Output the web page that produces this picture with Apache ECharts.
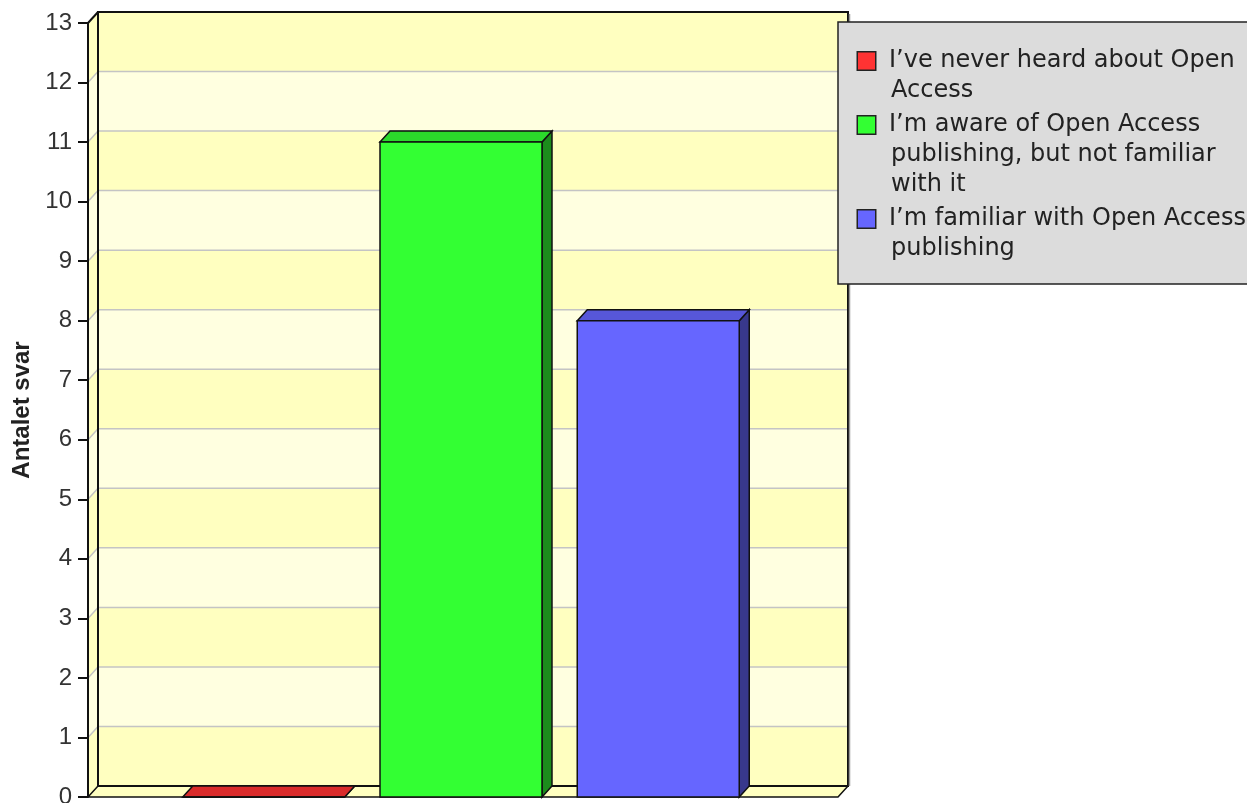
<!DOCTYPE html>
<html>
<head>
<meta charset="utf-8">
<script src="https://cdn.jsdelivr.net/npm/echarts@6/dist/echarts.min.js"></script>
<style>
  html, body { margin: 0; padding: 0; background: #fff; }
  #chart { width: 1247px; height: 803px; }
</style>
</head>
<body>
<div id="chart"></div>
<script>
// data
var categories = [''];
var seriesNames = [
  'I’ve never heard about Open Access',
  'I’m aware of Open Access publishing, but not familiar with it',
  'I’m familiar with Open Access publishing'
];
var seriesValues = [0, 11, 8];
var seriesColors = ['#ff3333', '#33ff33', '#6666ff'];
var yTicks = [0, 1, 2, 3, 4, 5, 6, 7, 8, 9, 10, 11, 12, 13];
var yAxisName = 'Antalet svar';

// 3d look
var DX = 10, DY = 11;
var BAND_A = '#ffffc0', BAND_B = '#ffffe0';
var BAR_W = 0.216, BAR_STEP = 0.263, BAR_SHIFT = -2;
var LEGEND_FONT = '"DejaVu Sans"';
var LEGEND_TEXT_W = 362;

function shade(hex, f) {
  var n = parseInt(hex.slice(1), 16);
  var r = Math.round(((n >> 16) & 255) * f);
  var g = Math.round(((n >> 8) & 255) * f);
  var b = Math.round((n & 255) * f);
  return 'rgb(' + r + ',' + g + ',' + b + ')';
}

var measureCtx = document.createElement('canvas').getContext('2d');
measureCtx.font = '24px ' + LEGEND_FONT;
function wrapText(text, maxW) {
  var words = text.split(' '), lines = [], cur = '';
  words.forEach(function (w) {
    var test = cur ? cur + ' ' + w : w;
    if (cur && measureCtx.measureText(test).width > maxW) {
      lines.push(cur);
      cur = w;
    } else {
      cur = test;
    }
  });
  if (cur) lines.push(cur);
  return lines;
}

function renderWalls(params, api) {
  var cs = params.coordSys;
  var x0 = cs.x, x1 = cs.x + cs.width;
  var yMin = yTicks[0], yMax = yTicks[yTicks.length - 1];
  var yBase = api.coord([0, yMin])[1], yTop = api.coord([0, yMax])[1];
  var kids = [];
  for (var k = yMin; k < yMax; k++) {
    var ya = api.coord([0, k])[1], yb = api.coord([0, k + 1])[1];
    var fill = (k - yMin) % 2 === 0 ? BAND_A : BAND_B;
    kids.push({ type: 'polygon', shape: { points: [[x0, ya], [x0 + DX, ya - DY], [x0 + DX, yb - DY], [x0, yb]] }, style: { fill: fill } });
    kids.push({ type: 'rect', shape: { x: x0 + DX, y: yb - DY, width: x1 - x0, height: ya - yb }, style: { fill: fill } });
  }
  for (var j = yMin + 1; j < yMax; j++) {
    var y = api.coord([0, j])[1];
    kids.push({ type: 'line', shape: { x1: x0 + DX, y1: y - DY, x2: x1 + DX, y2: y - DY }, style: { stroke: '#c4c4c4', lineWidth: 1.5 } });
    kids.push({ type: 'line', shape: { x1: x0, y1: y, x2: x0 + DX, y2: y - DY }, style: { stroke: '#c4c4c4', lineWidth: 1.5 } });
  }
  // floor
  kids.push({ type: 'polygon', shape: { points: [[x0, yBase], [x0 + DX, yBase - DY], [x1 + DX, yBase - DY], [x1, yBase]] }, style: { fill: BAND_A, stroke: '#111', lineWidth: 1.5 } });
  // back wall outline
  kids.push({ type: 'rect', shape: { x: x0 + DX, y: yTop - DY, width: x1 - x0, height: yBase - yTop }, style: { fill: 'none', stroke: '#111', lineWidth: 2 } });
  kids.push({ type: 'line', shape: { x1: x0, y1: yTop, x2: x0 + DX, y2: yTop - DY }, style: { stroke: '#111', lineWidth: 2 } });
  kids.push({ type: 'line', shape: { x1: x1 + DX + 1.5, y1: yTop - DY + 2, x2: x1 + DX + 1.5, y2: yBase - DY }, style: { stroke: '#999', lineWidth: 1.5 } });
  return { type: 'group', children: kids };
}

function makeBar(slot) {
  return function (params, api) {
    var base = api.coord([api.value(0), 0]);
    var top = api.coord([api.value(0), api.value(1)]);
    var band = api.size([1, 0])[0];
    var w = band * BAR_W;
    var cx = base[0] + BAR_SHIFT + (slot - (seriesNames.length - 1) / 2) * band * BAR_STEP;
    var l = cx - w / 2, r = cx + w / 2, y0 = base[1], y1 = top[1];
    var col = api.visual('color');
    return {
      type: 'group',
      children: [
        { type: 'polygon', shape: { points: [[r, y1], [r + DX, y1 - DY], [r + DX, y0 - DY], [r, y0]] }, style: { fill: shade(col, 0.55), stroke: '#111', lineWidth: 1.5 } },
        { type: 'polygon', shape: { points: [[l, y1], [l + DX, y1 - DY], [r + DX, y1 - DY], [r, y1]] }, style: { fill: shade(col, 0.85), stroke: '#111', lineWidth: 1.5 } },
        { type: 'rect', shape: { x: l, y: y1, width: w, height: y0 - y1 }, style: { fill: col, stroke: '#111', lineWidth: 1.5 } }
      ]
    };
  };
}

var rich = {
  gap: { width: 14, height: 19 },
  ind: { width: 33, height: 19 },
  t: { fontFamily: LEGEND_FONT, fontSize: 24, lineHeight: 30, color: '#222' }
};
seriesColors.forEach(function (c, i) {
  rich['sq' + i] = { width: 17, height: 17, backgroundColor: c, borderColor: '#222', borderWidth: 1.5 };
});

var series = [{
  type: 'custom',
  name: '__walls',
  silent: true,
  clip: false,
  z: -1,
  data: [[0, 0]],
  renderItem: renderWalls
}];
seriesNames.forEach(function (name, i) {
  series.push({
    type: 'custom',
    name: name,
    clip: false,
    itemStyle: { color: seriesColors[i] },
    data: [[0, seriesValues[i]]],
    renderItem: makeBar(i)
  });
});

var chart = echarts.init(document.getElementById('chart'));
chart.setOption({
  animation: false,
  color: seriesColors,
  grid: { left: 88, right: 409, top: 23, bottom: 6, containLabel: false, outerBoundsMode: 'none' },
  xAxis: { type: 'category', data: categories, show: false },
  yAxis: {
    type: 'value',
    min: yTicks[0],
    max: yTicks[yTicks.length - 1],
    interval: 1,
    name: yAxisName,
    nameLocation: 'middle',
    nameGap: 54,
    nameTextStyle: { fontFamily: '"Liberation Sans", Arial', fontWeight: 'bold', fontSize: 24, color: '#222' },
    axisLine: { show: true, lineStyle: { color: '#111', width: 2 } },
    axisTick: { show: true, length: 10, lineStyle: { color: '#111', width: 2 } },
    axisLabel: { margin: 16, fontFamily: '"Liberation Sans", Arial', fontSize: 24, color: '#333' },
    splitLine: { show: false }
  },
  legend: {
    data: seriesNames,
    orient: 'vertical',
    left: 838,
    top: 22,
    backgroundColor: '#dcdcdc',
    borderColor: '#222',
    borderWidth: 1.5,
    borderRadius: 0,
    padding: [24, 20, 20, 15],
    itemGap: 4,
    icon: 'none',
    itemWidth: 0,
    itemHeight: 0,
    formatter: function (name) {
      var i = seriesNames.indexOf(name);
      return wrapText(name, LEGEND_TEXT_W).map(function (ln, j) {
        return (j === 0 ? '{sq' + i + '|}{gap|}' : '{ind|}') + '{t|' + ln + '}';
      }).join('\n');
    },
    textStyle: { fontFamily: LEGEND_FONT, fontSize: 24, lineHeight: 30, color: '#222', rich: rich }
  },
  series: series
});
</script>
</body>
</html>
